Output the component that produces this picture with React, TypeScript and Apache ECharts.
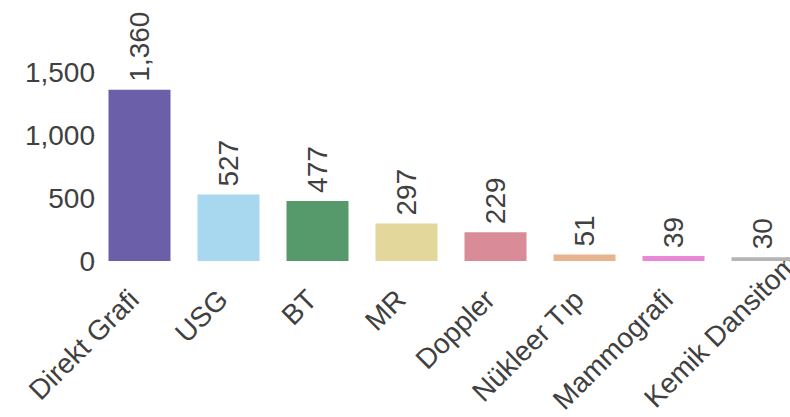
import React, { useEffect, useRef } from "react";
import * as echarts from "echarts";

const categories = ["Direkt Grafi", "USG", "BT", "MR", "Doppler", "Nükleer Tıp", "Mammografi", "Kemik Dansitometri"];
const values = [1360, 527, 477, 297, 229, 51, 39, 30];
const colors = ["#6a5fa8", "#a8d8f0", "#56996b", "#e3d79b", "#d98c98", "#e8b48f", "#e888d6", "#b4b4b4"];
const yTicks = [0, 500, 1000, 1500];

const FONT = "'Liberation Sans', Arial, sans-serif";
const TEXT = "#404040";
const FS = 28;

export default function App() {
  const ref = useRef<HTMLDivElement>(null);
  useEffect(() => {
    if (!ref.current) return;
    const chart = echarts.init(ref.current, undefined, { renderer: "svg" });
    chart.setOption({
      animation: false,
      grid: { left: 95, right: -17, top: 72, bottom: 156, containLabel: false, outerBoundsMode: "none" },
      xAxis: {
        type: "category",
        data: categories.map((c, i) =>
          i === categories.length - 1 ? { value: c, textStyle: { padding: [0, -82, 0, 0] } } : c
        ),
        axisLine: { show: false },
        axisTick: { show: false },
        axisLabel: {
          rotate: 45,
          interval: 0,
          margin: 28,
          padding: [0, 8, 0, 0],
          fontSize: FS,
          fontFamily: FONT,
          color: TEXT,
        },
      },
      yAxis: {
        type: "value",
        min: 0,
        max: yTicks[yTicks.length - 1],
        interval: 500,
        splitLine: { show: false },
        axisLine: { show: false },
        axisTick: { show: true, length: 3, lineStyle: { color: "#cccccc" } },
        axisLabel: {
          margin: 0,
          fontSize: FS,
          fontFamily: FONT,
          color: TEXT,
          formatter: (v: number) => v.toLocaleString("en-US"),
        },
      },
      series: [
        {
          type: "bar",
          barWidth: 62,
          data: values.map((v, i) => ({ value: v, itemStyle: { color: colors[i] } })),
          label: {
            show: true,
            position: "top",
            rotate: 90,
            align: "left",
            verticalAlign: "middle",
            distance: 8,
            fontSize: FS,
            fontFamily: FONT,
            color: TEXT,
            formatter: (p: any) => Number(p.value).toLocaleString("en-US"),
          },
        },
      ],
    });
    return () => chart.dispose();
  }, []);
  return (
    <div
      ref={ref}
      style={{ position: "fixed", left: 0, top: 0, width: 790, height: 417, background: "#fff" }}
    />
  );
}
